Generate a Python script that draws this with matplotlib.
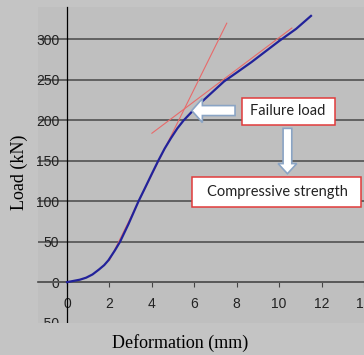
import matplotlib.pyplot as plt
from matplotlib.patches import Rectangle, FancyArrow

# load-deformation curve
deform = [0, 0.6, 0.9, 1.2, 1.5, 1.75, 1.95, 2.25, 2.5, 2.9, 3.37, 3.65, 4.0, 4.3, 4.6, 4.9, 5.2,
          5.5, 5.9, 6.4, 6.9, 7.4, 8.0, 8.7, 9.4, 10.0, 10.8, 11.5]
load = [0, 3, 5.5, 9.5, 15.5, 21, 27, 39, 50, 72, 100, 115, 134, 150, 165, 178, 190,
        200, 211, 224, 236, 248, 259, 272, 286, 298, 313, 329]

# the two tangent lines (end points)
tan1_x = [2.0, 7.53]
tan1_y = [27, 320]
tan2_x = [4.0, 10.6]
tan2_y = [184, 314]

xticks = [0, 2, 4, 6, 8, 10, 12, 14]
yticks = [-50, 0, 50, 100, 150, 200, 250, 300]

fig_bg = "#c4c4c4"
ax_bg = "#bfbfbf"

fig = plt.figure(figsize=(3.64, 3.55), dpi=100, facecolor=fig_bg)
ax = fig.add_axes([38 / 364, 1 - 322.6 / 355, 326 / 364, (322.6 - 7) / 355])
ax.set_facecolor(ax_bg)
ax.set_xlim(-1.37, 14.0)
ax.set_ylim(-50, 340)

ax.plot(tan1_x, tan1_y, color="#e86a6a", lw=0.8, zorder=3)
ax.plot(tan2_x, tan2_y, color="#e86a6a", lw=0.8, zorder=3)
ax.plot(deform, load, color="#22229a", lw=1.6, zorder=4)

# axes look
for s in ["top", "right"]:
    ax.spines[s].set_visible(False)
ax.spines["left"].set_position(("data", 0))
ax.spines["left"].set_linewidth(0.9)
ax.spines["bottom"].set_position(("data", 0))
ax.spines["bottom"].set_color("#5a5a5a")
ax.spines["bottom"].set_linewidth(1.3)

ax.set_yticks(yticks)
ax.set_xticks(xticks)
ax.yaxis.grid(True, color="#5a5a5a", lw=1.3)
ax.get_ygridlines()[0].set_visible(False)
ax.set_axisbelow(True)

tick_font = dict(family=["Liberation Sans Narrow", "Liberation Sans"], size=10)
ax.set_yticklabels([str(v) for v in yticks], **tick_font)
ax.set_xticklabels([str(v) for v in xticks], **tick_font)
ax.tick_params(axis="y", length=0, pad=5.5, colors="#222222")
ax.tick_params(axis="x", length=3.5, pad=7, color="#444444", labelcolor="#222222")

# cover the strip below the plot area (cuts the -50 label like in the original)
fig.patches.append(Rectangle((0, 0), 1, 1 - 322.6 / 355, transform=fig.transFigure,
                             facecolor=fig_bg, edgecolor="none", zorder=5))

fig.text(180 / 364, 1 - 343 / 355, "Deformation (mm)", ha="center", va="center",
         family="Liberation Serif", size=13, zorder=6)
fig.text(19 / 364, 1 - 172 / 355, "Load (kN)", ha="center", va="center",
         rotation=90, family="Liberation Serif", size=13, zorder=6)

# callouts
box_font = dict(family=["Lato", "DejaVu Sans"], size=10.5, color="#222222")
ax.add_patch(Rectangle((8.24, 194), 4.37, 34, facecolor="white", edgecolor="#e03a3a",
                       lw=1.1, zorder=6, clip_on=False))
ax.text(10.42, 211, "Failure load", ha="center", va="center", zorder=7, **box_font)

ax.add_patch(Rectangle((5.88, 92.7), 8.0, 37.8, facecolor="white", edgecolor="#e03a3a",
                       lw=1.1, zorder=6, clip_on=False))
ax.text(9.9, 111.6, "Compressive strength", ha="center", va="center", zorder=7, **box_font)

arrow_style = dict(facecolor="white", edgecolor="#8aa4c4", lw=1.2, zorder=6,
                   length_includes_head=True, clip_on=False)
ax.add_patch(FancyArrow(7.92, 212, -2.04, 0, width=12.3, head_width=29.6,
                        head_length=0.5, **arrow_style))
ax.add_patch(FancyArrow(10.39, 190, 0, -56, width=0.41, head_width=0.88,
                        head_length=12.5, **arrow_style))

fig.savefig("out.png", dpi=100, facecolor=fig_bg)
